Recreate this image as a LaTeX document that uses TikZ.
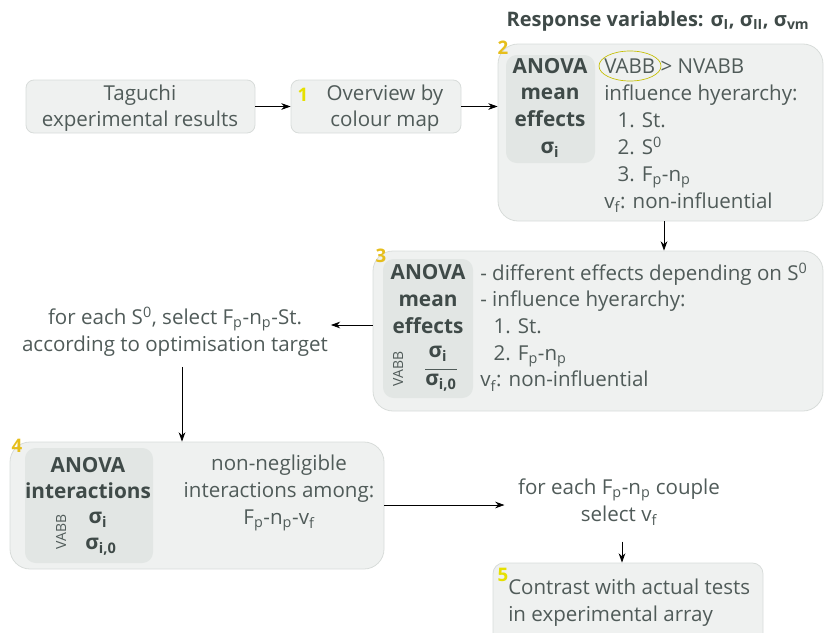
\documentclass[tikz,border=0pt]{standalone}
\usepackage{fontspec}
\setmainfont{Open Sans}
\usetikzlibrary{arrows.meta,fit}
\definecolor{txt}{HTML}{505B59}
\definecolor{txtb}{HTML}{3F4A48}
\definecolor{boxfill}{HTML}{EFF1F0}
\definecolor{boxline}{HTML}{D8DCDA}
\definecolor{innerfill}{HTML}{E2E6E4}
\definecolor{ylw}{HTML}{E6E000}
\definecolor{gold}{HTML}{E6BE1C}
\newcommand\sbs[1]{\textsubscript{#1}}
\newcommand\sps[1]{\textsuperscript{#1}}
\tikzset{
  panel/.style={draw=boxline, fill=boxfill, line width=0.6pt, inner sep=0pt},
  inner/.style={fill=innerfill, inner sep=0pt, rounded corners=8pt},
  body/.style={text=txt, font=\fontsize{15.4}{20}\selectfont, inner sep=0pt},
  bodyb/.style={text=txtb, font=\fontsize{15.6}{20}\bfseries\selectfont, inner sep=0pt},
  numl/.style={font=\fontsize{14}{14}\bfseries\selectfont, inner sep=0pt},
  vabb/.style={text=txt, font=\fontsize{10.5}{10}\selectfont, rotate=90, inner sep=0pt},
  arr/.style={-{Stealth[length=7pt,width=5pt]}, line width=0.6pt, black},
}
\begin{document}
\begin{tikzpicture}[x=0.75pt,y=-0.75pt]
\useasboundingbox (0,0) rectangle (824,632);
\clip (0,0) rectangle (824,632);

% title
\node[text=txtb, font=\fontsize{15}{16}\bfseries\selectfont, inner sep=0pt] (title) at (658,21)
  {Response variables: σ\sbs{I}, σ\sbs{II}, σ\sbs{vm}};

% Taguchi box
\node[panel, rounded corners=6pt, fit={(26,80) (255,133)}] (tag) {};
\node[body, align=center] (tagt) at (140,108) {Taguchi\\experimental results};

% Box 1
\node[panel, rounded corners=6pt, fit={(291,80) (461,133)}] (b1) {};
\node[body, align=center] (b1t) at (385,108) {Overview by\\colour map};
\node[numl, text=ylw] (n1) at (303,95) {1};

% Box 2
\node[panel, rounded corners=15pt, fit={(498,44) (823,221)}] (b2) {};
\node[inner, fit={(506,55) (595,163)}] (b2i) {};
\node[bodyb, align=center] (b2l) at (550,108) {ANOVA\\mean\\effects\\σ\sbs{i}};
\node[body, align=left, anchor=west, font=\fontsize{15.4}{20.2}\selectfont] (b2r) at (604,136)
  {VABB > NVABB\\influence hyerarchy:\\\hspace*{10pt}1. St.\\\hspace*{10pt}2. S\sps{0}\\\hspace*{10pt}3. F\sbs{p}-n\sbs{p}\\v\sbs{f}: non-influential};
\draw[ylw!85!black, line width=0.5pt] (630,66) ellipse [x radius=31, y radius=15];
\node[numl, text=gold] (n2) at (503,48) {2};

% Box 3
\node[panel, rounded corners=15pt, fit={(373,251) (823,411)}] (b3) {};
\node[inner, fit={(383,259) (473,398)}] (b3i) {};
\node[bodyb, align=center] (b3l) at (428,299) {ANOVA\\mean\\effects};
\node[bodyb] (b3s1) at (438,354) {σ\sbs{i}};
\node[bodyb] (b3s2) at (441,383) {σ\sbs{i,0}};
\draw[txt, line width=0.5pt] (b3s2.north west |- 0,369) -- (b3s2.north east |- 0,369);
\node[vabb] (b3v) at (398,369) {VABB};
\node[body, align=left, anchor=west] (b3r) at (480,327)
  {- different effects depending on S\sps{0}\\- influence hyerarchy:\\\hspace*{10pt}1. St.\\\hspace*{10pt}2. F\sbs{p}-n\sbs{p}\\v\sbs{f}: non-influential};
\node[numl, text=gold] (n3) at (381,256) {3};

% select text
\node[body, align=center] (sel) at (175,332)
  {for each S\sps{0}, select F\sbs{p}-n\sbs{p}-St.\\according to optimisation target};

% Box 4
\node[panel, rounded corners=15pt, fit={(10,442) (384,569)}] (b4) {};
\node[inner, fit={(25,448) (153,563)}] (b4i) {};
\node[bodyb, align=center] (b4l) at (88,478) {ANOVA\\interactions};
\node[bodyb] (b4s1) at (98,520) {σ\sbs{i}};
\node[bodyb] (b4s2) at (101,547) {σ\sbs{i,0}};
\node[vabb] (b4v) at (61,532) {VABB};
\node[body, align=center] (b4r) at (279,493)
  {non-negligible\\interactions among:\\F\sbs{p}-n\sbs{p}-v\sbs{f}};
\node[numl, text=gold] (n4) at (17,446) {4};

% each text
\node[body, align=center] (each) at (619,502)
  {for each F\sbs{p}-n\sbs{p} couple\\select v\sbs{f}};

% Box 5
\node[panel, rounded corners=8pt, fit={(493,563) (763,650)}] (b5) {};
\node[body, align=left, anchor=west] (b5t) at (508,602.5)
  {Contrast with actual tests\\in experimental array};
\node[numl, text=ylw] (n5) at (503,575) {5};

% connectors
\coordinate (c23) at (664,0);
\coordinate (c3s) at (0,325);
\coordinate (cs4) at (182,0);
\coordinate (c4e) at (0,505);
\coordinate (ce5) at (622,0);
\draw[arr] (tag.east) -- (b1.west);
\draw[arr] (b1.east) -- (b1.east -| b2.west);
\draw[arr] (b2.south -| c23) -- (b3.north -| c23);
\draw[arr] (b3.west |- c3s) -- ([xshift=2pt]sel.east |- c3s);
\draw[arr] (sel.south -| cs4) ++(0,10) -- (b4.north -| cs4);
\draw[arr] (b4.east |- c4e) -- ([xshift=-10pt]each.west |- c4e);
\draw[arr] ([yshift=-12pt]each.south -| ce5) -- (b5.north -| ce5);
\end{tikzpicture}
\end{document}
